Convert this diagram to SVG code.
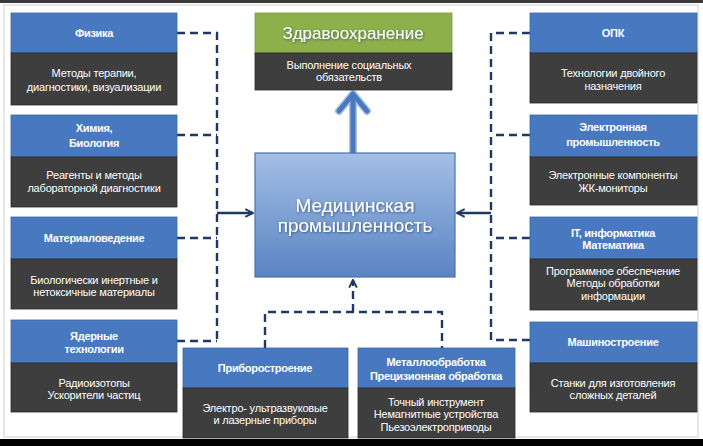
<svg xmlns="http://www.w3.org/2000/svg" width="703" height="446" viewBox="0 0 703 446">
<defs>
<style>
.hd{fill:#4878bf;stroke:#3b66a6;stroke-width:0.8}
.bd{fill:#3e3e3e;stroke:#2a2a2a;stroke-width:0.8}
.th{font-family:"Liberation Sans",Arial,sans-serif;font-size:11px;font-weight:bold;fill:#ffffff;text-anchor:middle;letter-spacing:-0.3px}
.tb{font-family:"Liberation Sans",Arial,sans-serif;font-size:11px;fill:#ffffff;text-anchor:middle;letter-spacing:-0.2px}
.big{font-family:"Liberation Sans",Arial,sans-serif;fill:#ffffff;text-anchor:middle;filter:url(#sh)}
.dash{fill:none;stroke:#1e3763;stroke-width:2.4;stroke-dasharray:8,5}
.sol{fill:none;stroke:#1e3763;stroke-width:2.4}
</style>
<filter id="sh" x="-10%" y="-30%" width="120%" height="160%">
<feDropShadow dx="0.8" dy="0.8" stdDeviation="0.8" flood-color="#1d3050" flood-opacity="0.7"/>
</filter>
<linearGradient id="cg" x1="0" y1="0" x2="0" y2="1">
<stop offset="0" stop-color="#a3bfe5"/>
<stop offset="1" stop-color="#5a84c3"/>
</linearGradient>
<marker id="ah" viewBox="0 0 10 10" refX="9" refY="5" markerWidth="4" markerHeight="4" orient="auto" markerUnits="strokeWidth">
<polyline points="1,1 9,5 1,9" fill="none" stroke="#1e3763" stroke-width="2"/>
</marker>
</defs>
<rect x="0" y="0" width="703" height="446" fill="#ffffff"/>
<rect x="0" y="0" width="703" height="3" fill="#3a3a3a"/>
<rect x="4" y="5" width="694" height="432" fill="none" stroke="#cfcfcf" stroke-width="1"/>
<rect x="0" y="439" width="703" height="7" fill="#000000"/>

<g id="connectors">
<path class="dash" d="M177,33 H217 V341 M177,135 H217 M177,238 H217 M177,341 H217"/>
<path class="sol" d="M217,213 H253" marker-end="url(#ah)"/>
<path class="dash" d="M530,33 H491 V340 M530,135 H491 M530,238 H491 M530,340 H491"/>
<path class="sol" d="M491,213 H457" marker-end="url(#ah)"/>
<path class="dash" d="M265,348 V312 H442 V348"/>
<path class="dash" d="M353,312 V280" marker-end="url(#ah)"/>
<path d="M353,153 V95" fill="none" stroke="#a9c1e6" stroke-width="8"/>
<polyline points="339,111 353,94 367,111" fill="none" stroke="#a9c1e6" stroke-width="8" stroke-linejoin="round" stroke-linecap="round"/>
<path d="M353,153 V95" fill="none" stroke="#4a79bd" stroke-width="5"/>
<polyline points="339,111 353,94 367,111" fill="none" stroke="#4a79bd" stroke-width="5" stroke-linejoin="round" stroke-linecap="round"/>
</g>

<g id="zdrav">
<rect x="255" y="13" width="197" height="40" fill="#8db04b" stroke="#7a9c3e" stroke-width="0.8"/>
<rect class="bd" x="255" y="53" width="197" height="37"/>
<text class="big" x="353" y="39" font-size="17">Здравоохранение</text>
<text class="tb" x="349" y="69">Выполнение социальных</text>
<text class="tb" x="349" y="81">обязательств</text>
</g>

<g id="med">
<rect x="255" y="153" width="200" height="124" fill="url(#cg)" stroke="#4a72ad" stroke-width="1.2"/>
<text class="big" x="355" y="212" font-size="19">Медицинская</text>
<text class="big" x="355" y="232" font-size="19">промышленность</text>
</g>

<g id="fizika">
<rect class="hd" x="11" y="13" width="166" height="40"/>
<rect class="bd" x="11" y="53" width="166" height="52"/>
<text class="th" x="94" y="37">Физика</text>
<text class="tb" x="94" y="77">Методы терапии,</text>
<text class="tb" x="94" y="91">диагностики, визуализации</text>
</g>

<g id="himiya">
<rect class="hd" x="11" y="115" width="166" height="42"/>
<rect class="bd" x="11" y="157" width="166" height="50"/>
<text class="th" x="94" y="132">Химия,</text>
<text class="th" x="94" y="147">Биология</text>
<text class="tb" x="94" y="179">Реагенты и методы</text>
<text class="tb" x="94" y="192">лабораторной диагностики</text>
</g>

<g id="material">
<rect class="hd" x="11" y="217" width="166" height="42"/>
<rect class="bd" x="11" y="259" width="166" height="50"/>
<text class="th" x="94" y="242">Материаловедение</text>
<text class="tb" x="94" y="284">Биологически инертные и</text>
<text class="tb" x="94" y="296">нетоксичные материалы</text>
</g>

<g id="yader">
<rect class="hd" x="11" y="320" width="166" height="43"/>
<rect class="bd" x="11" y="363" width="166" height="49"/>
<text class="th" x="94" y="340">Ядерные</text>
<text class="th" x="94" y="353">технологии</text>
<text class="tb" x="94" y="387">Радиоизотопы</text>
<text class="tb" x="94" y="399">Ускорители частиц</text>
</g>

<g id="opk">
<rect class="hd" x="530" y="13" width="167" height="40"/>
<rect class="bd" x="530" y="53" width="167" height="50"/>
<text class="th" x="613" y="37">ОПК</text>
<text class="tb" x="613" y="77">Технологии двойного</text>
<text class="tb" x="613" y="90">назначения</text>
</g>

<g id="elektron">
<rect class="hd" x="530" y="115" width="167" height="42"/>
<rect class="bd" x="530" y="157" width="167" height="48"/>
<text class="th" x="613" y="131">Электронная</text>
<text class="th" x="613" y="146">промышленность</text>
<text class="tb" x="613" y="179">Электронные компоненты</text>
<text class="tb" x="613" y="192">ЖК-мониторы</text>
</g>

<g id="it">
<rect class="hd" x="530" y="217" width="167" height="42"/>
<rect class="bd" x="530" y="259" width="167" height="51"/>
<text class="th" x="613" y="237">IT, информатика</text>
<text class="th" x="613" y="249">Математика</text>
<text class="tb" x="613" y="275">Программное обеспечение</text>
<text class="tb" x="613" y="287">Методы обработки</text>
<text class="tb" x="613" y="300">информации</text>
</g>

<g id="mashino">
<rect class="hd" x="530" y="322" width="167" height="41"/>
<rect class="bd" x="530" y="363" width="167" height="49"/>
<text class="th" x="613" y="346">Машиностроение</text>
<text class="tb" x="613" y="387">Станки для изготовления</text>
<text class="tb" x="613" y="399">сложных деталей</text>
</g>

<g id="pribor">
<rect class="hd" x="183" y="348" width="165" height="40"/>
<rect class="bd" x="183" y="388" width="165" height="50"/>
<text class="th" x="265" y="372">Приборостроение</text>
<text class="tb" x="265" y="412">Электро- ультразвуковые</text>
<text class="tb" x="265" y="424">и лазерные приборы</text>
</g>

<g id="metall">
<rect class="hd" x="358" y="348" width="157" height="40"/>
<rect class="bd" x="358" y="388" width="157" height="50"/>
<text class="th" x="436" y="366">Металлообработка</text>
<text class="th" x="436" y="380">Прецизионная обработка</text>
<text class="tb" x="436" y="406">Точный инструмент</text>
<text class="tb" x="436" y="418">Немагнитные устройства</text>
<text class="tb" x="436" y="431">Пьезоэлектроприводы</text>
</g>
</svg>
